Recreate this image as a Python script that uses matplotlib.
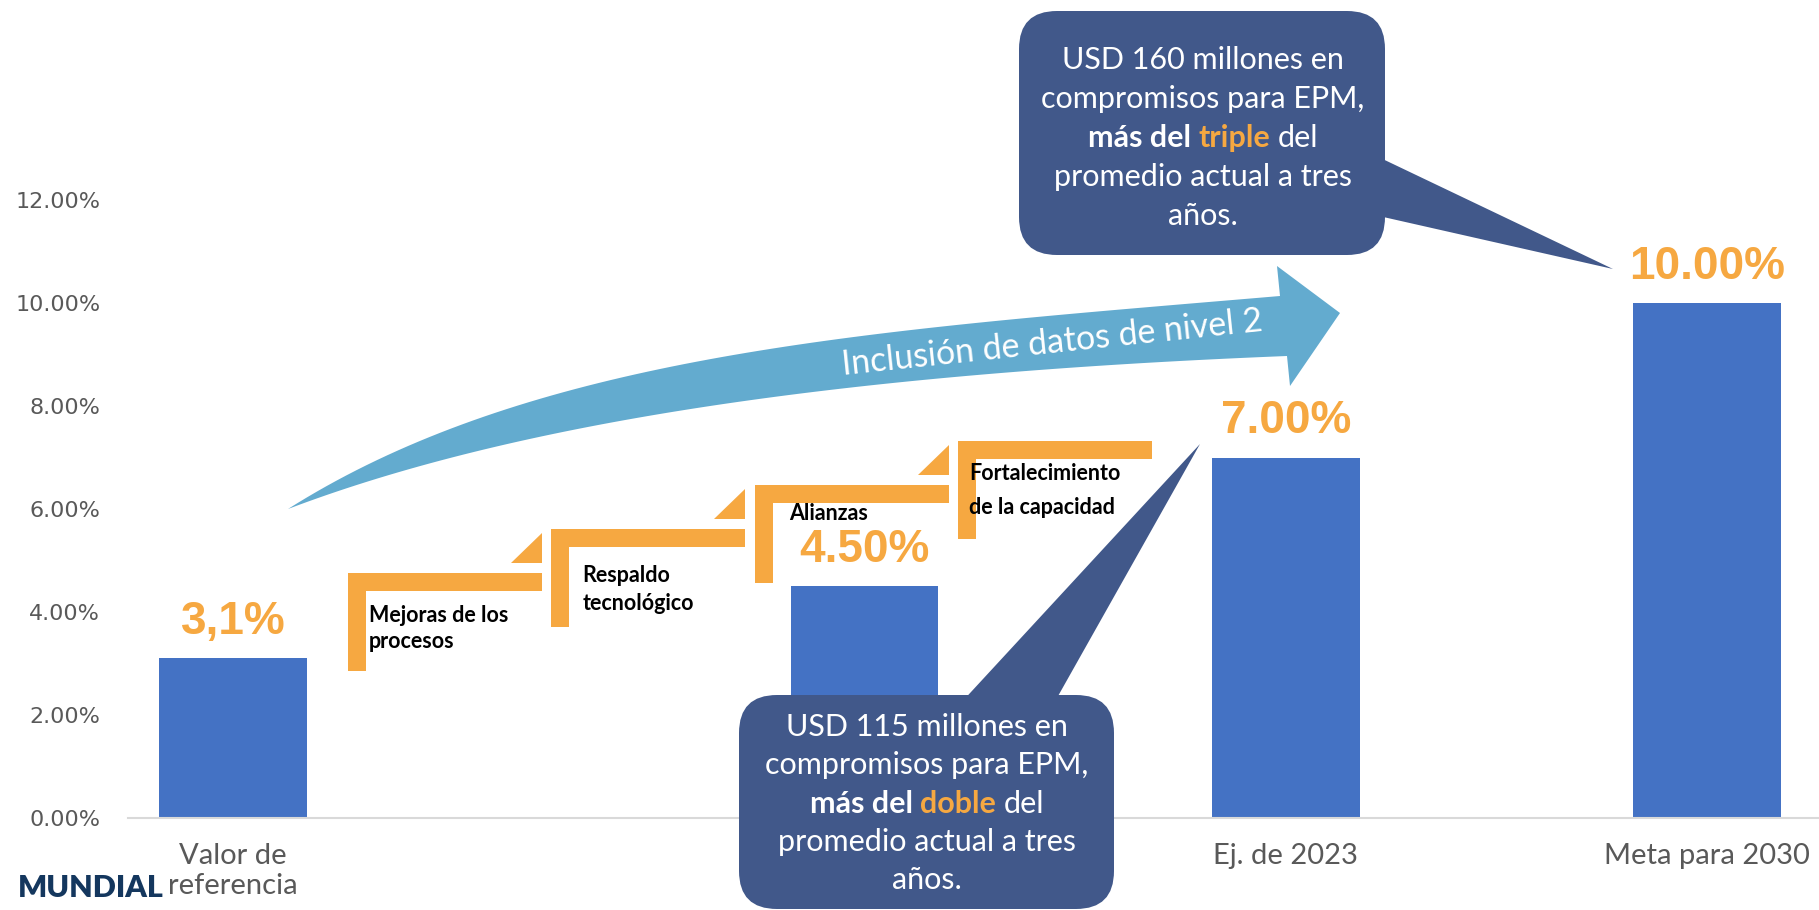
import matplotlib
matplotlib.use('Agg')
import matplotlib.pyplot as plt
from matplotlib.patches import Polygon, FancyBboxPatch
import numpy as np

# chart data
categories = ["Valor de\nreferencia", "", "Ej. de 2023", "Meta para 2030"]
values = [3.1, 4.5, 7.0, 10.0]
value_labels = ["3,1%", "4.50%", "7.00%", "10.00%"]
y_ticks = [0, 2, 4, 6, 8, 10, 12]

step_labels = [["Mejoras de los", "procesos"],
               ["Respaldo", "tecnológico"],
               ["Alianzas"],
               ["Fortalecimiento", "de la capacidad"]]
arrow_text = "Inclusión de datos de nivel 2"

# callout lines: (text, style) with n = normal, b = bold, o = bold orange
callout_top = [[("USD 160 millones en", "n")],
               [("compromisos para EPM,", "n")],
               [("más del", "b"), ("triple", "o"), ("del", "n")],
               [("promedio actual a tres", "n")],
               [("años.", "n")]]
callout_bottom = [[("USD 115 millones en", "n")],
                  [("compromisos para EPM,", "n")],
                  [("más del", "b"), ("doble", "o"), ("del", "n")],
                  [("promedio actual a tres", "n")],
                  [("años.", "n")]]

# colours
BAR = '#4472C4'
ORANGE = '#F6A841'
NAVY = '#41588A'
LIGHTBLUE = '#63ABCF'
GRAY = '#595959'

W, H = 1819, 910
x_pos = [0, 1.5, 2.5, 3.5]

fig = plt.figure(figsize=(W / 100, H / 100), dpi=100)
ax = fig.add_axes([128 / W, (H - 818) / H, 1 - 128 / W, (818 - 200) / H])
ax.bar(x_pos, values, width=0.35, color=BAR, zorder=2)
ax.set_xlim(-0.249, 3.766)
ax.set_ylim(0, 12)
ax.set_yticks(y_ticks)
ax.set_yticklabels(["%.2f%%" % v for v in y_ticks], fontsize=16, color=GRAY, family='DejaVu Sans')
ax.set_xticks(x_pos)
ax.set_xticklabels(categories, fontsize=21, color=GRAY, family='Lato')
ax.tick_params(axis='y', length=0, pad=20)
ax.tick_params(axis='x', length=0, pad=18)
for s in ['top', 'right', 'left']:
    ax.spines[s].set_visible(False)
ax.spines['bottom'].set_color('#D9D9D9')
ax.spines['bottom'].set_linewidth(1.5)

for xi, v, lab in zip(x_pos, values, value_labels):
    ax.annotate(lab, (xi, v), xytext=(0, 26), textcoords='offset points', ha='center', va='center',
                fontsize=33, fontweight='bold', color=ORANGE, family='Liberation Sans')

# overlay in pixel units for the drawn shapes
ov = fig.add_axes([0, 0, 1, 1])
ov.set_xlim(0, W)
ov.set_ylim(H, 0)
ov.axis('off')

# curved arrow
def bez(p0, p1, p2, p3, n=80):
    t = np.linspace(0, 1, n)[:, None]
    p0, p1, p2, p3 = [np.array(p, dtype=float) for p in (p0, p1, p2, p3)]
    return (1 - t) ** 3 * p0 + 3 * (1 - t) ** 2 * t * p1 + 3 * (1 - t) * t ** 2 * p2 + t ** 3 * p3

upper = bez((288, 509), (538, 351), (880, 330), (1280, 296))
lower = bez((288, 509), (538, 414), (887, 372), (1287, 356))
head = np.array([(1277, 266), (1340, 313), (1290, 386)])
ov.add_patch(Polygon(np.vstack([upper, head, lower[::-1]]), closed=True, color=LIGHTBLUE, lw=0))
ov.text(1052, 343, arrow_text, rotation=6.0, rotation_mode='anchor', ha='center', va='center',
        fontsize=24.5, color='white', family='Lato')

# orange steps
label_off = [(21, 42, 27), (31, 47, 27), (35, 29, 0), (11, 32, 35)]
for i, lines in enumerate(step_labels):
    x0 = 348 + 203.3 * i
    y0 = 573 - 44 * i
    pts = [(x0, y0), (x0 + 194, y0), (x0 + 194, y0 + 18), (x0 + 18, y0 + 18), (x0 + 18, y0 + 98), (x0, y0 + 98)]
    ov.add_patch(Polygon(pts, closed=True, color=ORANGE, lw=0))
    if i < 3:
        tri = [(x0 + 163, y0 - 10), (x0 + 194, y0 - 10), (x0 + 194, y0 - 40)]
        ov.add_patch(Polygon(tri, closed=True, color=ORANGE, lw=0))
    dx, dy, gap = label_off[i]
    for j, line in enumerate(lines):
        ov.text(x0 + dx, y0 + dy + j * gap, line, ha='left', va='center', fontsize=15.5,
                fontweight='bold', color='black', family='Lato')

# callouts
renderer = fig.canvas.get_renderer()
t1 = ov.text(0, 0, 'x x', fontsize=22, family='Lato')
t2 = ov.text(0, 0, 'xx', fontsize=22, family='Lato')
space = t1.get_window_extent(renderer).width - t2.get_window_extent(renderer).width
t1.remove()
t2.remove()

def rich_line(cx, base, parts, size=22):
    objs = []
    for s, st in parts:
        objs.append(ov.text(0, base, s, ha='left', va='baseline', fontsize=size, family='Lato',
                            fontweight='bold' if st in 'bo' else 'normal',
                            color=ORANGE if st == 'o' else 'white'))
    widths = [o.get_window_extent(renderer).width for o in objs]
    x = cx - (sum(widths) + space * (len(objs) - 1)) / 2
    for o, w in zip(objs, widths):
        o.set_x(x)
        x += w + space

def callout(x0, y0, x1, y1, tip, base, cx, baselines, lines):
    ov.add_patch(Polygon(tip + base, closed=True, color=NAVY, lw=0))
    ov.add_patch(FancyBboxPatch((x0, y0), x1 - x0, y1 - y0, boxstyle='round,pad=0,rounding_size=38',
                                color=NAVY, lw=0))
    for b, parts in zip(baselines, lines):
        rich_line(cx, b, parts)

callout(1019, 11, 1385, 255, [(1613, 269)], [(1370, 214), (1370, 153)], 1203,
        [69, 108, 147, 186, 225], callout_top)
callout(739, 695, 1114, 909, [(1200, 444)], [(1053, 705), (959, 705)], 927,
        [736, 774, 813, 851, 889], callout_bottom)

# logo text at the bottom left
ov.text(164, 897, "MUNDIAL", ha='right', va='baseline', fontsize=22, fontweight='heavy',
        color='#14375E', family='Lato')

fig.savefig('out.png', dpi=100)
